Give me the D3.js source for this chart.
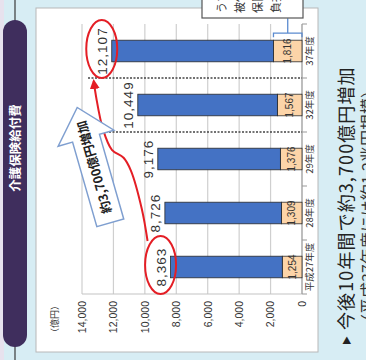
<!DOCTYPE html>
<html>
<head>
<meta charset="utf-8">
<script src="https://cdn.jsdelivr.net/npm/d3@7"></script>
<style>
  body { margin: 0; background: #fff; }
  svg { display: block; }
  text { font-family: "Liberation Sans", "Noto Sans CJK JP", sans-serif; }
  .jp { font-family: "Noto Sans CJK JP", sans-serif; }
</style>
</head>
<body>
<svg id="chart" width="366" height="360"></svg>
<script>
// values (億円)
const categories = ['平成27年度', '28年度', '29年度', '32年度', '37年度'];
const totals = [8363, 8726, 9176, 10449, 12107];
const lowerPart = [1254, 1309, 1376, 1567, 1816];
const yTicks = [0, 2000, 4000, 6000, 8000, 10000, 12000, 14000];
const gapAfter = ['29年度', '32年度'];   // dotted separators mark skipped years
const noteLines = ['うち第1号', '被保険者の', '保険料で', '負担する額'];

const svg = d3.select('#chart');
svg.append('rect').attr('width', 366).attr('height', 360).attr('fill', '#d7edf4');
svg.append('rect').attr('width', 4).attr('height', 360).attr('fill', '#e7e2ee');

// chart is laid out upright, then the whole page is turned a quarter to the left
const g = svg.append('g').attr('transform', 'translate(0,360) rotate(-90)');

// title band
g.append('line').attr('x1', 0).attr('x2', 360).attr('y1', 15).attr('y2', 15)
  .attr('stroke', '#3a3a3a').attr('stroke-width', 1.2);
g.append('rect').attr('x', 13).attr('y', 3).attr('width', 327).attr('height', 24)
  .attr('rx', 12).attr('fill', '#3f2e5d');
g.append('text').attr('class', 'jp').attr('x', 212).attr('y', 20)
  .attr('text-anchor', 'middle').attr('fill', '#fff').attr('font-size', 12.5)
  .attr('font-weight', 'bold').text('介護保険給付費');

// white chart box
g.append('rect').attr('x', 8).attr('y', 36).attr('width', 344).attr('height', 282)
  .attr('fill', '#fff').attr('stroke', '#b8b8b8');

const x = d3.scaleBand().domain(categories).range([66, 336])
  .paddingInner(0.6).paddingOuter(0.3);
const y = d3.scaleLinear().domain([0, 14000]).range([302, 82]);

// gridlines
g.append('g').selectAll('line').data(yTicks).join('line')
  .attr('x1', 66).attr('x2', 336)
  .attr('y1', d => y(d)).attr('y2', d => y(d))
  .attr('stroke', '#cfcfcf').attr('stroke-width', 1.2);
g.append('line').attr('x1', 66).attr('x2', 66).attr('y1', y(14000)).attr('y2', y(0))
  .attr('stroke', '#c4c4c4').attr('stroke-width', 1.2);

// value axis
const yAxis = g.append('g').attr('transform', 'translate(66,0)')
  .call(d3.axisLeft(y).tickValues(yTicks).tickFormat(d3.format(',')).tickSize(0).tickPadding(7));
yAxis.select('.domain').remove();
yAxis.selectAll('text').attr('font-size', 10.5).attr('fill', '#333')
  .style('font-family', '"Liberation Sans", sans-serif');
g.append('text').attr('class', 'jp').attr('x', 59).attr('y', 58)
  .attr('text-anchor', 'end').attr('font-size', 9).attr('fill', '#333').text('（億円）');

// category axis
g.append('line').attr('x1', 66).attr('x2', 336).attr('y1', y(0)).attr('y2', y(0))
  .attr('stroke', '#999');
const bounds = d3.range(categories.length + 1).map(i => x.range()[0] + i * x.step());
g.append('g').selectAll('line').data(bounds).join('line')
  .attr('x1', d => d).attr('x2', d => d).attr('y1', y(0)).attr('y2', y(0) + 5)
  .attr('stroke', '#999');
const xAxis = g.append('g').attr('transform', `translate(0,${y(0)})`)
  .call(d3.axisBottom(x).tickSize(0).tickPadding(4));
xAxis.select('.domain').remove();
xAxis.selectAll('text').attr('font-size', 9.5).attr('fill', '#333')
  .style('font-family', '"Noto Sans CJK JP", sans-serif');

// dotted separators
g.append('g').selectAll('line').data(gapAfter).join('line')
  .attr('x1', d => x(d) + x.bandwidth() + x.step() * x.paddingInner() / 2)
  .attr('x2', d => x(d) + x.bandwidth() + x.step() * x.paddingInner() / 2)
  .attr('y1', 88).attr('y2', y(0))
  .attr('stroke', '#444').attr('stroke-width', 1.6).attr('stroke-dasharray', '2,1.5');

// stacked bars
const table = categories.map((c, i) => ({ cat: c, lower: lowerPart[i], upper: totals[i] - lowerPart[i] }));
const series = d3.stack().keys(['lower', 'upper'])(table);
const colors = { lower: '#fcd4a8', upper: '#4472c4' };
g.append('g').selectAll('g').data(series).join('g')
  .attr('fill', d => colors[d.key])
  .selectAll('rect').data(d => d).join('rect')
  .attr('x', d => x(d.data.cat))
  .attr('y', d => y(d[1]))
  .attr('width', x.bandwidth())
  .attr('height', d => y(d[0]) - y(d[1]))
  .attr('stroke', '#2a2a2a').attr('stroke-width', 0.8);

// labels
g.append('g').selectAll('text').data(table).join('text')
  .attr('x', d => x(d.cat) + x.bandwidth() / 2)
  .attr('y', d => y(d.lower / 2) + 3.5)
  .attr('text-anchor', 'middle').attr('font-size', 10).attr('fill', '#333')
  .text(d => d3.format(',')(d.lower));
g.append('g').selectAll('text').data(table).join('text')
  .attr('x', d => x(d.cat) + x.bandwidth() / 2)
  .attr('y', d => y(d.lower + d.upper) - 5)
  .attr('text-anchor', 'middle').attr('font-size', 13.5).attr('letter-spacing', 1)
  .attr('fill', '#333')
  .text(d => d3.format(',')(d.lower + d.upper));

// red rings on first and last totals, with curved arrow between them
const red = '#e41e25';
const first = table[0], last = table[table.length - 1];
const ring = d => ({ cx: x(d.cat) + x.bandwidth() / 2 + 2, cy: y(d.lower + d.upper) - 10 });
const r0 = ring(first), r1 = ring(last);
g.append('g').selectAll('ellipse').data([r0, r1]).join('ellipse')
  .attr('cx', d => d.cx).attr('cy', d => d.cy).attr('rx', 29).attr('ry', 15.5)
  .attr('fill', 'none').attr('stroke', red).attr('stroke-width', 2);

svg.append('defs').append('marker').attr('id', 'redhead')
  .attr('viewBox', '0 0 10 10').attr('refX', 8).attr('refY', 5)
  .attr('markerWidth', 10).attr('markerHeight', 10).attr('markerUnits', 'userSpaceOnUse')
  .attr('orient', 'auto')
  .append('path').attr('d', 'M0,0 L10,5 L0,10 Z').attr('fill', red);

const a = [r0.cx + 24, r0.cy - 13];
const b = [r1.cx - 32, r1.cy - 8];
const at = (t, off) => [a[0] + t * (b[0] - a[0]), a[1] + t * (b[1] - a[1]) + off];
const curvePts = [a, at(0.2, 5), at(0.44, 7), at(0.52, 4), at(0.57, -5), at(0.7, -7), at(0.9, -3), b];
g.append('path').attr('d', d3.line().curve(d3.curveCatmullRom)(curvePts))
  .attr('fill', 'none').attr('stroke', red).attr('stroke-width', 2)
  .attr('marker-end', 'url(#redhead)');

// outlined block arrow with the increase
const arrow = g.append('g')
  .attr('transform', `translate(${x(categories[0]) + 55},${y(12200)}) rotate(-16)`);
arrow.append('path')
  .attr('d', 'M0,-14 L88,-14 L88,-29 L120,0 L88,29 L88,14 L0,14 Z')
  .attr('fill', '#fff').attr('stroke', '#7f9fd0').attr('stroke-width', 1.5);
arrow.append('text').attr('class', 'jp').attr('x', 58).attr('y', 4.5)
  .attr('text-anchor', 'middle').attr('font-size', 12.5).attr('font-weight', 'bold')
  .attr('fill', '#222').text('約3,700億円増加');

// note box and bracket on the last lower segment
const blue = '#5b8bd0';
const bx = x(last.cat) + x.bandwidth() + 7;
g.append('path')
  .attr('d', `M${bx - 4},${y(last.lower)} H${bx} V${y(0)} H${bx - 4} M${bx},${y(last.lower / 2)} H${bx + 15}`)
  .attr('fill', 'none').attr('stroke', blue).attr('stroke-width', 1.3);
g.append('rect').attr('x', 342).attr('y', 202).attr('width', 40).attr('height', 101)
  .attr('fill', '#fff').attr('stroke', '#555').attr('stroke-width', 1.2);
g.append('g').selectAll('text').data(noteLines).join('text')
  .attr('class', 'jp').attr('x', 347).attr('y', (d, i) => 226 + i * 18)
  .attr('font-size', 11).attr('fill', '#333').text(d => d);

// side caption
g.append('text').attr('class', 'jp').attr('x', 15).attr('y', 350)
  .attr('font-size', 9).attr('fill', '#222').text('▶');
g.append('text').attr('class', 'jp').attr('x', 30).attr('y', 353)
  .attr('font-size', 18).attr('letter-spacing', 1.1).attr('fill', '#222')
  .text('今後10年間で約3,700億円増加');
g.append('text').attr('class', 'jp').attr('x', 30).attr('y', 374)
  .attr('font-size', 16).attr('fill', '#333')
  .text('（平成37年度には約1.2兆円規模）');
</script>
</body>
</html>
